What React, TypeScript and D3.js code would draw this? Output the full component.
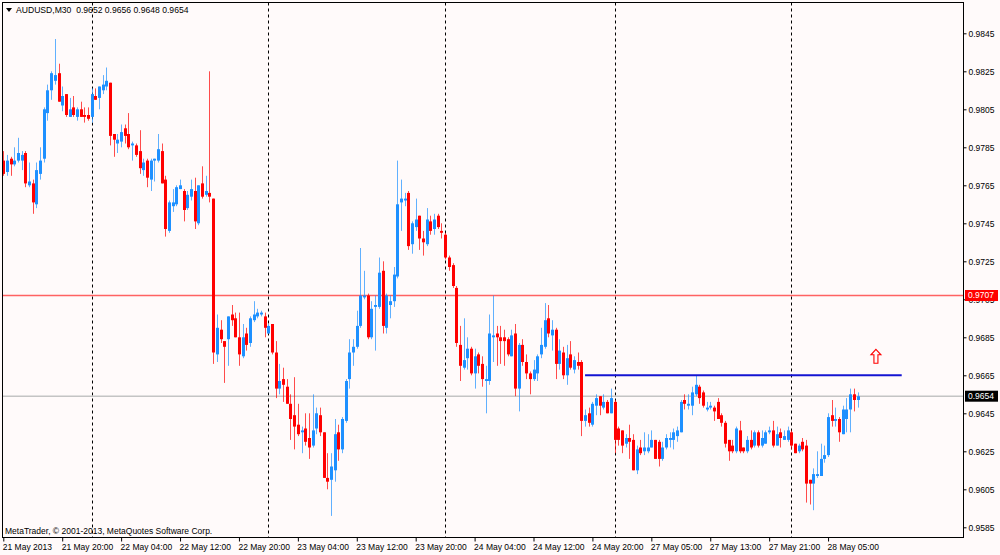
import { useEffect, useRef } from "react";
import * as d3 from "d3";

// AUDUSD M30, 21 May 2013 12:00 .. 28 May 2013 09:00 (bar index = position on chart)
const opens = [
  0.9778, 0.9772, 0.9779, 0.9776, 0.9778, 0.9778, 0.9782, 0.9765, 0.9766, 0.9755,
  0.9771, 0.9779, 0.9803, 0.9815, 0.9820, 0.9824, 0.9807, 0.9813, 0.9801, 0.9806,
  0.9801, 0.9805, 0.9802, 0.9802, 0.9801, 0.9812, 0.9811, 0.9815, 0.9817, 0.9819,
  0.9792, 0.9787, 0.9788, 0.9795, 0.9792, 0.9786, 0.9786, 0.9783, 0.9773, 0.9778,
  0.9768, 0.9778, 0.9778, 0.9783, 0.9768, 0.9741, 0.9754, 0.9755, 0.9763, 0.9762,
  0.9753, 0.9759, 0.9762, 0.9745, 0.9766, 0.9760, 0.9761, 0.9758, 0.9676, 0.9689,
  0.9683, 0.9684, 0.9697, 0.9695, 0.9685, 0.9675, 0.9687, 0.9682, 0.9694, 0.9696,
  0.9697, 0.9696, 0.9687, 0.9692, 0.9677, 0.9658, 0.9663, 0.9659, 0.9650, 0.9644,
  0.9639, 0.9635, 0.9637, 0.9632, 0.9628, 0.9637, 0.9644, 0.9635, 0.9611, 0.9610,
  0.9615, 0.9635, 0.9626, 0.9641, 0.9663, 0.9677, 0.9680, 0.9691, 0.9706, 0.9707,
  0.9685, 0.9701, 0.9701, 0.9720, 0.9690, 0.9702, 0.9704, 0.9717, 0.9756, 0.9757,
  0.9761, 0.9734, 0.9743, 0.9749, 0.9737, 0.9734, 0.9746, 0.9742, 0.9749, 0.9741,
  0.9739, 0.9727, 0.9723, 0.9711, 0.9681, 0.9669, 0.9674, 0.9679, 0.9666, 0.9676,
  0.9671, 0.9662, 0.9662, 0.9685, 0.9687, 0.9685, 0.9685, 0.9684, 0.9675, 0.9687,
  0.9658, 0.9681, 0.9672, 0.9666, 0.9663, 0.9666, 0.9676, 0.9680, 0.9695, 0.9686,
  0.9689, 0.9671, 0.9677, 0.9665, 0.9676, 0.9668, 0.9672, 0.9672, 0.9641, 0.9645,
  0.9639, 0.9649, 0.9654, 0.9648, 0.9651, 0.9645, 0.9651, 0.9637, 0.9636, 0.9629,
  0.9632, 0.9631, 0.9615, 0.9627, 0.9625, 0.9625, 0.9627, 0.9631, 0.9630, 0.9621,
  0.9627, 0.9631, 0.9631, 0.9633, 0.9635, 0.9652, 0.9649, 0.9649, 0.9655, 0.9659,
  0.9656, 0.9647, 0.9648, 0.9648, 0.9651, 0.9644, 0.9640, 0.9631, 0.9628, 0.9625,
  0.9636, 0.9627, 0.9625, 0.9631, 0.9628, 0.9635, 0.9628, 0.9629, 0.9635, 0.9636,
  0.9628, 0.9635, 0.9631, 0.9631, 0.9635, 0.9629, 0.9625, 0.9630, 0.9628, 0.9610,
  0.9608, 0.9612, 0.9612, 0.9621, 0.9623, 0.9644, 0.9641, 0.9642, 0.9634, 0.9642,
  0.9647, 0.9655, 0.9652,
];
const highs = [
  0.9783, 0.9781, 0.9780, 0.9785, 0.9790, 0.9783, 0.9783, 0.9777, 0.9768, 0.9777,
  0.9785, 0.9806, 0.9818, 0.9825, 0.9842, 0.9829, 0.9817, 0.9813, 0.9811, 0.9812,
  0.9806, 0.9809, 0.9806, 0.9806, 0.9816, 0.9816, 0.9817, 0.9823, 0.9827, 0.9819,
  0.9792, 0.9792, 0.9797, 0.9797, 0.9803, 0.9788, 0.9787, 0.9794, 0.9779, 0.9779,
  0.9779, 0.9779, 0.9792, 0.9787, 0.9770, 0.9757, 0.9763, 0.9765, 0.9768, 0.9763,
  0.9762, 0.9768, 0.9769, 0.9765, 0.9775, 0.9770, 0.9825, 0.9758, 0.9697, 0.9694,
  0.9683, 0.9696, 0.9702, 0.9698, 0.9698, 0.9692, 0.9690, 0.9696, 0.9704, 0.9700,
  0.9699, 0.9698, 0.9692, 0.9692, 0.9683, 0.9671, 0.9669, 0.9663, 0.9655, 0.9664,
  0.9650, 0.9638, 0.9645, 0.9645, 0.9655, 0.9648, 0.9648, 0.9635, 0.9624, 0.9624,
  0.9642, 0.9639, 0.9643, 0.9663, 0.9684, 0.9684, 0.9699, 0.9732, 0.9720, 0.9708,
  0.9704, 0.9707, 0.9727, 0.9725, 0.9708, 0.9707, 0.9722, 0.9778, 0.9768, 0.9761,
  0.9762, 0.9746, 0.9758, 0.9749, 0.9741, 0.9753, 0.9749, 0.9750, 0.9750, 0.9745,
  0.9740, 0.9728, 0.9724, 0.9712, 0.9691, 0.9695, 0.9685, 0.9680, 0.9679, 0.9677,
  0.9675, 0.9670, 0.9697, 0.9707, 0.9691, 0.9691, 0.9689, 0.9685, 0.9689, 0.9692,
  0.9682, 0.9684, 0.9676, 0.9667, 0.9673, 0.9676, 0.9690, 0.9703, 0.9702, 0.9694,
  0.9690, 0.9684, 0.9680, 0.9681, 0.9683, 0.9675, 0.9677, 0.9673, 0.9647, 0.9648,
  0.9651, 0.9655, 0.9654, 0.9655, 0.9652, 0.9658, 0.9652, 0.9638, 0.9636, 0.9634,
  0.9639, 0.9634, 0.9628, 0.9631, 0.9635, 0.9634, 0.9636, 0.9631, 0.9631, 0.9630,
  0.9634, 0.9635, 0.9637, 0.9638, 0.9652, 0.9655, 0.9655, 0.9659, 0.9665, 0.9660,
  0.9657, 0.9651, 0.9651, 0.9649, 0.9653, 0.9645, 0.9641, 0.9631, 0.9631, 0.9638,
  0.9641, 0.9627, 0.9633, 0.9636, 0.9636, 0.9636, 0.9636, 0.9636, 0.9638, 0.9641,
  0.9638, 0.9637, 0.9636, 0.9638, 0.9636, 0.9629, 0.9629, 0.9632, 0.9631, 0.9610,
  0.9616, 0.9625, 0.9629, 0.9628, 0.9645, 0.9652, 0.9648, 0.9643, 0.9649, 0.9653,
  0.9658, 0.9658, 0.9656,
];
const lows = [
  0.9770, 0.9770, 0.9770, 0.9775, 0.9777, 0.9773, 0.9764, 0.9764, 0.9750, 0.9753,
  0.9768, 0.9777, 0.9799, 0.9810, 0.9818, 0.9809, 0.9804, 0.9801, 0.9801, 0.9801,
  0.9799, 0.9801, 0.9798, 0.9799, 0.9798, 0.9810, 0.9805, 0.9813, 0.9815, 0.9786,
  0.9780, 0.9782, 0.9785, 0.9787, 0.9784, 0.9778, 0.9780, 0.9771, 0.9770, 0.9764,
  0.9762, 0.9767, 0.9777, 0.9766, 0.9738, 0.9740, 0.9751, 0.9754, 0.9763, 0.9746,
  0.9752, 0.9757, 0.9742, 0.9744, 0.9758, 0.9759, 0.9756, 0.9671, 0.9672, 0.9682,
  0.9661, 0.9670, 0.9691, 0.9685, 0.9670, 0.9674, 0.9678, 0.9680, 0.9693, 0.9695,
  0.9696, 0.9685, 0.9687, 0.9676, 0.9653, 0.9655, 0.9651, 0.9650, 0.9631, 0.9626,
  0.9633, 0.9624, 0.9628, 0.9621, 0.9627, 0.9634, 0.9633, 0.9611, 0.9605, 0.9591,
  0.9609, 0.9620, 0.9624, 0.9640, 0.9658, 0.9670, 0.9679, 0.9690, 0.9705, 0.9684,
  0.9684, 0.9678, 0.9700, 0.9687, 0.9687, 0.9695, 0.9701, 0.9716, 0.9741, 0.9754,
  0.9731, 0.9729, 0.9741, 0.9731, 0.9728, 0.9733, 0.9739, 0.9739, 0.9742, 0.9737,
  0.9726, 0.9720, 0.9711, 0.9680, 0.9662, 0.9668, 0.9668, 0.9665, 0.9658, 0.9666,
  0.9659, 0.9645, 0.9660, 0.9672, 0.9670, 0.9671, 0.9670, 0.9675, 0.9675, 0.9654,
  0.9646, 0.9670, 0.9663, 0.9655, 0.9662, 0.9662, 0.9674, 0.9679, 0.9685, 0.9678,
  0.9663, 0.9668, 0.9663, 0.9660, 0.9668, 0.9666, 0.9668, 0.9633, 0.9638, 0.9638,
  0.9638, 0.9644, 0.9644, 0.9647, 0.9645, 0.9645, 0.9624, 0.9628, 0.9624, 0.9627,
  0.9621, 0.9615, 0.9613, 0.9623, 0.9623, 0.9624, 0.9627, 0.9621, 0.9617, 0.9620,
  0.9626, 0.9627, 0.9626, 0.9630, 0.9635, 0.9647, 0.9647, 0.9644, 0.9654, 0.9650,
  0.9648, 0.9646, 0.9647, 0.9641, 0.9642, 0.9638, 0.9627, 0.9620, 0.9624, 0.9624,
  0.9624, 0.9624, 0.9624, 0.9626, 0.9627, 0.9627, 0.9627, 0.9629, 0.9634, 0.9627,
  0.9628, 0.9627, 0.9631, 0.9630, 0.9626, 0.9624, 0.9624, 0.9625, 0.9598, 0.9597,
  0.9594, 0.9611, 0.9612, 0.9619, 0.9622, 0.9638, 0.9638, 0.9630, 0.9634, 0.9635,
  0.9635, 0.9646, 0.9648,
];
const closes = [
  0.9771, 0.9778, 0.9776, 0.9778, 0.9782, 0.9781, 0.9766, 0.9767, 0.9756, 0.9773,
  0.9778, 0.9805, 0.9815, 0.9824, 0.9823, 0.9809, 0.9812, 0.9802, 0.9805, 0.9802,
  0.9805, 0.9801, 0.9801, 0.9800, 0.9813, 0.9810, 0.9817, 0.9818, 0.9820, 0.9791,
  0.9789, 0.9789, 0.9793, 0.9791, 0.9785, 0.9787, 0.9781, 0.9774, 0.9777, 0.9769,
  0.9778, 0.9779, 0.9784, 0.9766, 0.9742, 0.9756, 0.9756, 0.9764, 0.9765, 0.9752,
  0.9760, 0.9763, 0.9746, 0.9765, 0.9759, 0.9762, 0.9759, 0.9677, 0.9690, 0.9684,
  0.9680, 0.9696, 0.9694, 0.9685, 0.9676, 0.9685, 0.9681, 0.9695, 0.9697, 0.9698,
  0.9698, 0.9690, 0.9691, 0.9677, 0.9658, 0.9662, 0.9660, 0.9650, 0.9642, 0.9638,
  0.9634, 0.9636, 0.9630, 0.9627, 0.9636, 0.9645, 0.9635, 0.9611, 0.9609, 0.9617,
  0.9634, 0.9626, 0.9642, 0.9662, 0.9677, 0.9680, 0.9691, 0.9707, 0.9707, 0.9685,
  0.9700, 0.9702, 0.9719, 0.9691, 0.9707, 0.9704, 0.9718, 0.9755, 0.9758, 0.9758,
  0.9733, 0.9745, 0.9747, 0.9737, 0.9735, 0.9747, 0.9741, 0.9747, 0.9743, 0.9740,
  0.9727, 0.9722, 0.9712, 0.9682, 0.9670, 0.9673, 0.9679, 0.9666, 0.9675, 0.9670,
  0.9663, 0.9663, 0.9687, 0.9686, 0.9685, 0.9683, 0.9683, 0.9676, 0.9686, 0.9658,
  0.9681, 0.9672, 0.9666, 0.9663, 0.9668, 0.9675, 0.9681, 0.9694, 0.9687, 0.9689,
  0.9671, 0.9678, 0.9665, 0.9674, 0.9669, 0.9673, 0.9670, 0.9641, 0.9644, 0.9640,
  0.9650, 0.9653, 0.9649, 0.9651, 0.9645, 0.9653, 0.9631, 0.9631, 0.9628, 0.9632,
  0.9630, 0.9615, 0.9626, 0.9624, 0.9627, 0.9627, 0.9631, 0.9621, 0.9621, 0.9627,
  0.9632, 0.9632, 0.9635, 0.9636, 0.9651, 0.9650, 0.9650, 0.9656, 0.9660, 0.9653,
  0.9649, 0.9648, 0.9649, 0.9646, 0.9642, 0.9640, 0.9629, 0.9625, 0.9625, 0.9637,
  0.9625, 0.9625, 0.9631, 0.9627, 0.9635, 0.9628, 0.9632, 0.9635, 0.9636, 0.9628,
  0.9634, 0.9632, 0.9633, 0.9636, 0.9628, 0.9624, 0.9628, 0.9626, 0.9608, 0.9608,
  0.9613, 0.9613, 0.9621, 0.9623, 0.9643, 0.9641, 0.9642, 0.9635, 0.9647, 0.9647,
  0.9655, 0.9652, 0.9654,
];

const priceTicks = [
  0.9845, 0.9825, 0.9805, 0.9785, 0.9765, 0.9745, 0.9725, 0.9705,
  0.9685, 0.9665, 0.9645, 0.9625, 0.9605, 0.9585,
];
const timeLabelBars = [0, 16, 32, 48, 64, 80, 96, 112, 128, 144, 160, 176, 192, 208, 224];
const timeLabels = [
  "21 May 2013", "21 May 20:00", "22 May 04:00", "22 May 12:00", "22 May 20:00",
  "23 May 04:00", "23 May 12:00", "23 May 20:00", "24 May 04:00", "24 May 12:00",
  "24 May 20:00", "27 May 05:00", "27 May 13:00", "27 May 21:00", "28 May 05:00",
];
const daySeparatorBars = [24, 72, 120, 166, 214];

const redLevel = 0.9707;
const bidLevel = 0.9654;
const blueLevel = 0.9665;
const blueLineBars = [158, 244];
const arrowBar = 237;
const arrowPrice = 0.9675;

const font = "'Liberation Sans', Arial, sans-serif";

export default function App() {
  const svgRef = useRef<SVGSVGElement>(null);
  const width = 1000;
  const height = 555;

  useEffect(() => {
    const svg = d3.select(svgRef.current);
    svg.selectAll("*").remove();

    const left = 2.5;
    const top = 2.5;
    const right = 963.5;
    const bottom = 537.5;

    const x = d3.scaleLinear().domain([0, 232]).range([3.3, 3.3 + 232 * 3.682]);
    const y = d3.scaleLinear().domain([0.9585, 0.9845]).range([527.3, 33.3]);

    svg.append("rect").attr("width", width).attr("height", height).attr("fill", "#fffafa");

    // day separators
    svg
      .append("g")
      .selectAll("line")
      .data(daySeparatorBars)
      .join("line")
      .attr("x1", (d) => Math.round(x(d)) + 0.5)
      .attr("x2", (d) => Math.round(x(d)) + 0.5)
      .attr("y1", top)
      .attr("y2", bottom)
      .attr("stroke", "#000")
      .attr("stroke-dasharray", "3,3");

    // horizontal levels
    svg
      .append("line")
      .attr("x1", left)
      .attr("x2", right)
      .attr("y1", y(bidLevel))
      .attr("y2", y(bidLevel))
      .attr("stroke", "#c4c4c4")
      .attr("stroke-width", 1.5);
    svg
      .append("line")
      .attr("x1", left)
      .attr("x2", right)
      .attr("y1", y(redLevel))
      .attr("y2", y(redLevel))
      .attr("stroke", "#ff6262")
      .attr("stroke-width", 1.7);

    // candles
    const bars = d3.range(opens.length);
    const up = (i: number) => closes[i] >= opens[i];
    const color = (i: number) => (up(i) ? "#1e90ff" : "#ff0000");

    svg
      .append("g")
      .selectAll("line")
      .data(bars)
      .join("line")
      .attr("x1", (i) => Math.round(x(i)) + 0.5)
      .attr("x2", (i) => Math.round(x(i)) + 0.5)
      .attr("y1", (i) => y(highs[i]))
      .attr("y2", (i) => y(lows[i]))
      .attr("stroke", color)
      .attr("stroke-opacity", 0.7);

    svg
      .append("g")
      .selectAll("rect")
      .data(bars)
      .join("rect")
      .attr("x", (i) => Math.round(x(i)) - 1)
      .attr("width", 3)
      .attr("y", (i) => y(Math.max(opens[i], closes[i])))
      .attr("height", (i) => Math.max(1, Math.abs(y(opens[i]) - y(closes[i]))))
      .attr("fill", color);

    // blue horizontal trend line
    svg
      .append("line")
      .attr("x1", x(blueLineBars[0]))
      .attr("x2", x(blueLineBars[1]))
      .attr("y1", y(blueLevel))
      .attr("y2", y(blueLevel))
      .attr("stroke", "#1414d2")
      .attr("stroke-width", 2);

    // up arrow
    const ax = x(arrowBar);
    const ay = y(arrowPrice);
    svg
      .append("path")
      .attr(
        "d",
        `M${ax},${ay - 7} L${ax + 5},${ay - 1.5} L${ax + 2},${ay - 1.5} L${ax + 2},${ay + 7} L${ax - 2},${ay + 7} L${ax - 2},${ay - 1.5} L${ax - 5},${ay - 1.5} Z`
      )
      .attr("fill", "#fffafa")
      .attr("stroke", "#ff0000")
      .attr("stroke-width", 1.1);

    // frame
    svg
      .append("rect")
      .attr("x", left)
      .attr("y", top)
      .attr("width", right - left)
      .attr("height", bottom - top)
      .attr("fill", "none")
      .attr("stroke", "#000");

    // price axis
    const yAxis = svg
      .append("g")
      .attr("transform", `translate(${right},0)`)
      .call(
        d3
          .axisRight(y)
          .tickValues(priceTicks)
          .tickSize(3)
          .tickPadding(2)
          .tickFormat((d) => d3.format(".4f")(d as number))
      );
    yAxis.select(".domain").remove();
    yAxis
      .selectAll("text")
      .attr("font-family", font)
      .attr("font-size", 8.5)
      .attr("fill", "#000");

    // time axis
    const xAxis = svg
      .append("g")
      .attr("transform", `translate(0,${bottom})`)
      .call(
        d3
          .axisBottom(x)
          .tickValues(timeLabelBars)
          .tickSize(4)
          .tickPadding(2)
          .tickFormat((_, i) => timeLabels[i])
      );
    xAxis.select(".domain").remove();
    xAxis
      .selectAll("text")
      .attr("text-anchor", "start")
      .attr("dx", -1)
      .attr("font-family", font)
      .attr("font-size", 8.5)
      .attr("fill", "#000");

    // price labels on the axis
    const tag = (p: number, fill: string) => {
      svg
        .append("rect")
        .attr("x", right + 1.5)
        .attr("y", y(p) - 5.5)
        .attr("width", 33)
        .attr("height", 11)
        .attr("fill", fill);
      svg
        .append("text")
        .attr("x", right + 4.5)
        .attr("y", y(p))
        .attr("dy", "0.35em")
        .attr("font-family", font)
        .attr("font-size", 8.5)
        .attr("fill", "#fff")
        .text(d3.format(".4f")(p));
    };
    tag(redLevel, "#ff0000");
    tag(bidLevel, "#000");

    // header
    svg.append("path").attr("d", "M6,8 L12,8 L9,12 Z").attr("fill", "#000");
    svg
      .append("text")
      .attr("x", 16)
      .attr("y", 13)
      .attr("font-family", font)
      .attr("font-size", 8.6)
      .attr("fill", "#000")
      .attr("xml:space", "preserve")
      .text(
        `AUDUSD,M30  ${d3.format(".4f")(opens[232])} ${d3.format(".4f")(highs[232])} ${d3.format(".4f")(lows[232])} ${d3.format(".4f")(closes[232])}`
      );

    svg
      .append("text")
      .attr("x", 5)
      .attr("y", 534)
      .attr("font-family", font)
      .attr("font-size", 8.5)
      .attr("fill", "#000")
      .text("MetaTrader, © 2001-2013, MetaQuotes Software Corp.");
  }, []);

  return (
    <div style={{ position: "absolute", left: 0, top: 0 }}>
      <svg ref={svgRef} width={width} height={height} style={{ display: "block" }} />
    </div>
  );
}
